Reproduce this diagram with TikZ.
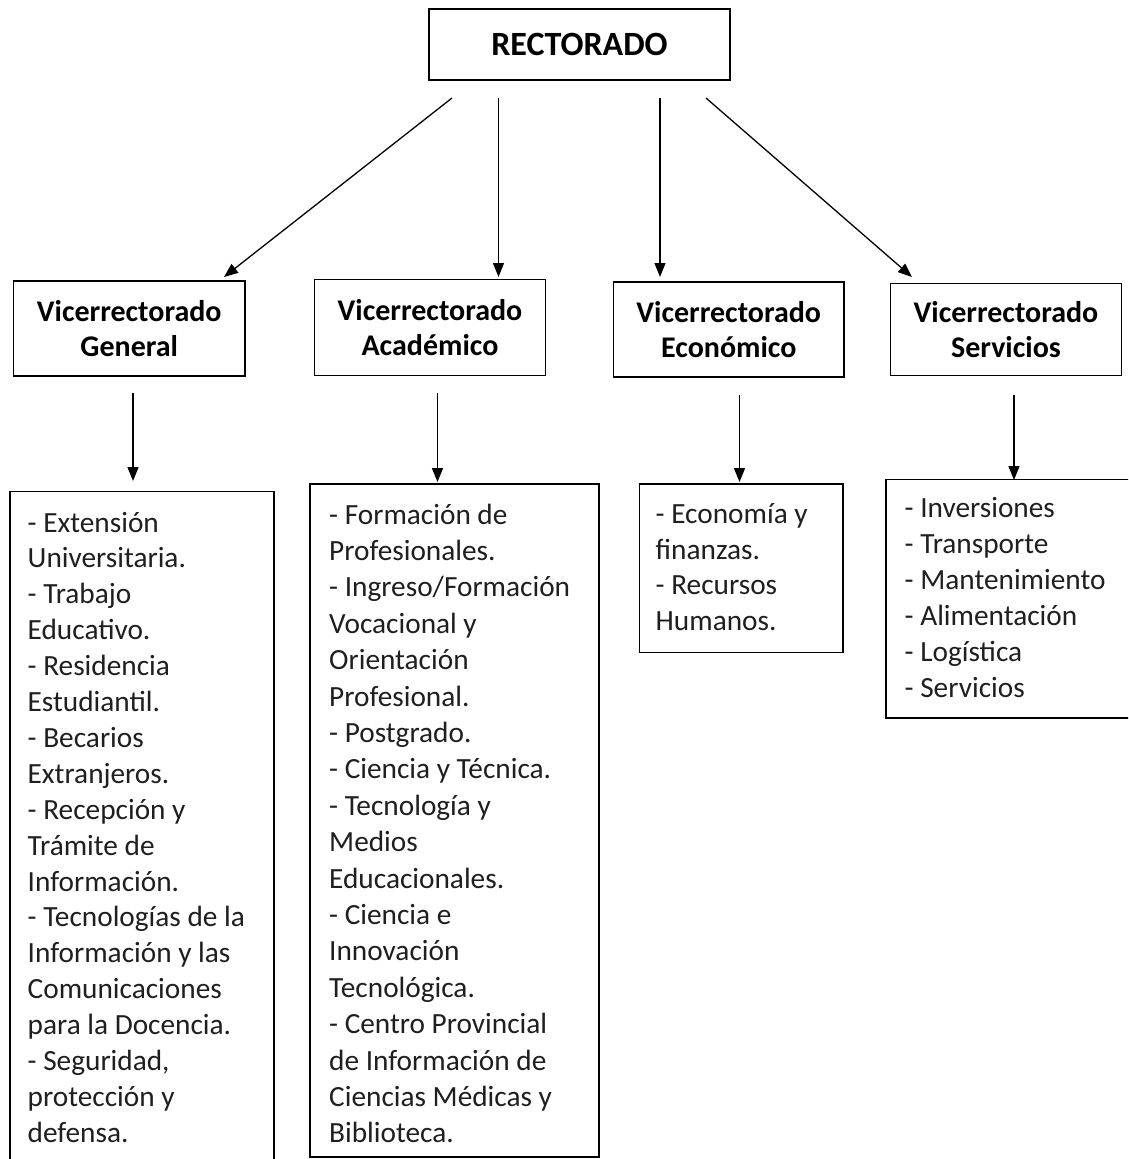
\documentclass[tikz,border=0pt]{standalone}
\usepackage{fontspec}
\setmainfont{Carlito}
\usetikzlibrary{arrows.meta}
\begin{document}
\begin{tikzpicture}[x=1pt,y=-1pt,
  box/.style={draw=black, line width=1.6pt, inner sep=0pt},
  head/.style={font=\bfseries\fontsize{30}{35}\selectfont, align=center, text=black},
  list/.style={anchor=base west, inner sep=0pt, font=\fontsize{29.3}{36}\selectfont, text=black!88},
  arr/.style={line width=1.3pt, -{Triangle[length=14pt,width=11pt]}}]
\path[use as bounding box] (0,0) rectangle (1128,1159);
\clip (0,0) rectangle (1128,1159);
\fill[white] (0,0) rectangle (1128,1159);
% top
\node[box, minimum width=301pt, minimum height=71pt, font=\bfseries\fontsize{34}{40}\selectfont] (rect) at (579.5,44.5) {RECTORADO};
% second row
\node[box, minimum width=231.5pt, minimum height=95pt, head] (vg) at (129.25,328.5) {Vicerrectorado\\General};
\node[box, minimum width=231pt, minimum height=96pt, head] (va) at (430,327.5) {Vicerrectorado\\Académico};
\node[box, minimum width=230.5pt, minimum height=95pt, head] (ve) at (728.75,329.5) {Vicerrectorado\\Económico};
\node[box, minimum width=231pt, minimum height=92pt, head] (vs) at (1006,329.5) {Vicerrectorado\\Servicios};
% list boxes
\node[box, minimum width=264pt, minimum height=700pt] (l1) at (142,841.5) {};
\node[box, minimum width=289pt, minimum height=673pt] (l2) at (454.5,820.5) {};
\node[box, minimum width=203.5pt, minimum height=168.5pt] (l3) at (741.25,568.25) {};
\node[box, minimum width=274pt, minimum height=238.5pt] (l4) at (1023,598.75) {};
% list texts
\foreach [count=\i] \t in {{- Extensión},{Universitaria.},{- Trabajo},{Educativo.},{- Residencia},{Estudiantil.},{- Becarios},{Extranjeros.},{- Recepción y},{Trámite de},{Información.},{- Tecnologías de la},{Información y las},{Comunicaciones},{para la Docencia.},{- Seguridad,},{protección y},{defensa.}}
  \node[list] (ta\i) at (27.5,{532+35.9*(\i-1)}) {\t};
\foreach [count=\i] \t in {{- Formación de},{Profesionales.},{- Ingreso/Formación},{Vocacional y},{Orientación},{Profesional.},{- Postgrado.},{- Ciencia y Técnica.},{- Tecnología y},{Medios},{Educacionales.},{- Ciencia e},{Innovación},{Tecnológica.},{- Centro Provincial},{de Información de},{Ciencias Médicas y},{Biblioteca.}}
  \node[list] (tb\i) at (329,{524+36.4*(\i-1)}) {\t};
\foreach [count=\i] \t in {{- Economía y},{finanzas.},{- Recursos},{Humanos.}}
  \node[list] (tc\i) at (655.5,{523.5+35.6*(\i-1)}) {\t};
\foreach [count=\i] \t in {{- Inversiones},{- Transporte},{- Mantenimiento},{- Alimentación},{- Logística},{- Servicios}}
  \node[list] (td\i) at (904.5,{517.5+35.9*(\i-1)}) {\t};
% arrow end points
\coordinate (s1) at (452,98);   \coordinate (e1) at (224,277);
\coordinate (s2) at (498.5,98); \coordinate (e2) at (498.5,277);
\coordinate (s3) at (660,98);   \coordinate (e3) at (660,277);
\coordinate (s4) at (706,98);   \coordinate (e4) at (912,277);
\coordinate (p1) at (133,393);  \coordinate (q1) at (133,481);
\coordinate (p2) at (437.5,393);\coordinate (q2) at (437.5,482);
\coordinate (p3) at (739.5,395);\coordinate (q3) at (739.5,482);
\coordinate (p4) at (1014,395); \coordinate (q4) at (1014,480);
\foreach \a/\b in {s1/e1,s2/e2,s3/e3,s4/e4,p1/q1,p2/q2,p3/q3,p4/q4}
  \draw[arr] (\a) -- (\b);
\end{tikzpicture}
\end{document}
